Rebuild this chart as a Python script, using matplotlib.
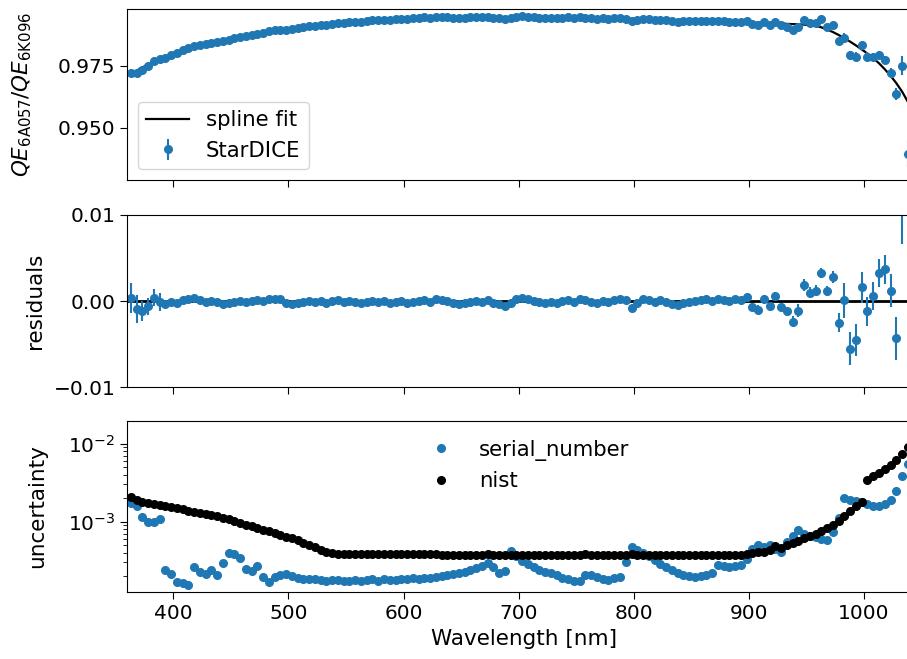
import numpy as np
import matplotlib
matplotlib.use("Agg")
import matplotlib.pyplot as plt

# Wavelength grid [nm], 5 nm steps
wavelength = np.arange(363, 1039, 5)

# spline fit of the QE ratio
spline_fit = [
    0.9716, 0.9730, 0.9743, 0.9755, 0.9766, 0.9777, 0.9786, 0.9795, 0.9803, 0.9811,
    0.9818, 0.9825, 0.9831, 0.9837, 0.9842, 0.9847, 0.9852, 0.9857, 0.9862, 0.9866,
    0.9871, 0.9875, 0.9879, 0.9883, 0.9887, 0.9891, 0.9894, 0.9897, 0.9900, 0.9903,
    0.9906, 0.9909, 0.9912, 0.9915, 0.9918, 0.9920, 0.9922, 0.9924, 0.9926, 0.9928,
    0.9930, 0.9932, 0.9933, 0.9935, 0.9936, 0.9937, 0.9939, 0.9940, 0.9941, 0.9942,
    0.9943, 0.9944, 0.9944, 0.9945, 0.9945, 0.9946, 0.9946, 0.9946, 0.9946, 0.9946,
    0.9946, 0.9946, 0.9946, 0.9946, 0.9946, 0.9946, 0.9946, 0.9946, 0.9946, 0.9946,
    0.9946, 0.9945, 0.9945, 0.9945, 0.9944, 0.9944, 0.9944, 0.9943, 0.9943, 0.9943,
    0.9942, 0.9942, 0.9941, 0.9941, 0.9940, 0.9940, 0.9939, 0.9939, 0.9938, 0.9937,
    0.9937, 0.9936, 0.9935, 0.9935, 0.9934, 0.9933, 0.9933, 0.9932, 0.9931, 0.9931,
    0.9930, 0.9929, 0.9929, 0.9928, 0.9927, 0.9926, 0.9926, 0.9925, 0.9924, 0.9923,
    0.9923, 0.9922, 0.9921, 0.9920, 0.9919, 0.9918, 0.9917, 0.9916, 0.9914, 0.9911,
    0.9905, 0.9896, 0.9886, 0.9874, 0.9861, 0.9847, 0.9832, 0.9816, 0.9799, 0.9781,
    0.9760, 0.9736, 0.9710, 0.9680, 0.9646, 0.9605,
]

# StarDICE measurement minus spline
residuals = [
    0.0004, -0.0009, -0.0011, -0.0006, 0.0004, -0.0001, -0.0003, -0.0001, -0.0002, 0.0001,
    0.0003, 0.0004, 0.0001, -0.0001, 0.0000, -0.0001, -0.0003, -0.0002, -0.0001, 0.0000,
    -0.0001, 0.0000, 0.0001, 0.0000, 0.0002, 0.0003, 0.0002, -0.0002, -0.0003, -0.0002,
    -0.0001, 0.0000, -0.0001, 0.0000, -0.0002, 0.0000, 0.0001, -0.0001, 0.0000, -0.0001,
    -0.0002, -0.0001, 0.0000, -0.0001, 0.0000, -0.0002, -0.0001, 0.0000, -0.0002, -0.0001,
    0.0000, 0.0001, -0.0001, 0.0002, 0.0001, 0.0000, -0.0002, -0.0003, -0.0002, -0.0001,
    0.0000, -0.0001, 0.0001, -0.0002, -0.0003, -0.0006, -0.0002, 0.0002, 0.0004, 0.0002,
    0.0000, -0.0001, -0.0002, -0.0001, -0.0002, 0.0000, 0.0001, -0.0001, 0.0002, 0.0001,
    -0.0001, -0.0002, 0.0000, -0.0001, 0.0001, 0.0002, 0.0001, -0.0008, -0.0002, 0.0002,
    0.0001, -0.0001, 0.0001, -0.0001, -0.0003, -0.0005, -0.0002, -0.0001, 0.0000, 0.0001,
    0.0002, 0.0000, 0.0002, 0.0001, 0.0000, 0.0002, 0.0001, 0.0005, -0.0007, -0.0010,
    0.0002, -0.0006, 0.0006, -0.0007, -0.0012, -0.0024, -0.0011, 0.0019, 0.0010, 0.0012,
    0.0033, 0.0012, 0.0028, -0.0025, 0.0001, -0.0055, -0.0045, 0.0016, -0.0012, 0.0006,
    0.0033, 0.0037, 0.0012, -0.0043, 0.0105, -0.0210,
]

# uncertainties
serial_number = [
    1.72e-3, 1.59e-3, 1.16e-3, 1.00e-3, 1.00e-3, 1.07e-3, 2.40e-4, 2.14e-4, 1.70e-4, 1.62e-4,
    1.55e-4, 2.65e-4, 2.29e-4, 2.14e-4, 2.40e-4, 2.07e-4, 2.98e-4, 3.94e-4, 3.80e-4, 3.39e-4,
    2.48e-4, 2.34e-4, 2.73e-4, 1.94e-4, 1.67e-4, 1.97e-4, 2.05e-4, 2.14e-4, 2.00e-4, 1.90e-4,
    1.85e-4, 1.82e-4, 1.85e-4, 1.80e-4, 1.75e-4, 1.80e-4, 1.78e-4, 1.72e-4, 1.75e-4, 1.80e-4,
    1.74e-4, 1.78e-4, 1.82e-4, 1.76e-4, 1.85e-4, 1.78e-4, 1.80e-4, 1.84e-4, 1.86e-4, 1.88e-4,
    1.85e-4, 1.90e-4, 1.92e-4, 1.97e-4, 2.00e-4, 2.05e-4, 2.15e-4, 2.20e-4, 2.30e-4, 2.40e-4,
    2.55e-4, 2.70e-4, 2.95e-4, 2.65e-4, 2.20e-4, 2.35e-4, 4.20e-4, 3.60e-4, 3.10e-4, 2.90e-4,
    2.60e-4, 2.40e-4, 2.30e-4, 2.20e-4, 2.10e-4, 1.90e-4, 1.85e-4, 1.75e-4, 1.72e-4, 2.10e-4,
    2.05e-4, 1.97e-4, 1.85e-4, 1.80e-4, 1.90e-4, 1.97e-4, 3.00e-4, 4.70e-4, 4.30e-4, 4.00e-4,
    3.60e-4, 3.20e-4, 2.90e-4, 2.60e-4, 2.40e-4, 2.20e-4, 2.07e-4, 2.00e-4, 1.97e-4, 2.00e-4,
    2.05e-4, 2.20e-4, 2.80e-4, 2.70e-4, 2.65e-4, 2.70e-4, 2.80e-4, 3.30e-4, 4.50e-4, 5.00e-4,
    4.80e-4, 5.00e-4, 4.50e-4, 4.10e-4, 5.50e-4, 6.50e-4, 7.80e-4, 7.00e-4, 6.60e-4, 6.40e-4,
    6.00e-4, 5.80e-4, 7.40e-4, 1.10e-3, 2.00e-3, 1.90e-3, 1.85e-3, 1.80e-3, 1.68e-3, 1.58e-3,
    1.60e-3, 1.68e-3, 1.90e-3, 2.50e-3, 3.90e-3, 5.50e-3,
]

nist = [
    2.05e-3, 1.92e-3, 1.80e-3, 1.72e-3, 1.68e-3, 1.64e-3, 1.60e-3, 1.55e-3, 1.52e-3, 1.45e-3,
    1.38e-3, 1.33e-3, 1.29e-3, 1.26e-3, 1.22e-3, 1.17e-3, 1.12e-3, 1.07e-3, 1.02e-3, 9.7e-4,
    9.2e-4, 8.8e-4, 8.3e-4, 7.9e-4, 7.5e-4, 7.1e-4, 6.8e-4, 6.4e-4, 6.1e-4, 5.8e-4,
    5.4e-4, 5.0e-4, 4.8e-4, 4.4e-4, 4.15e-4, 3.95e-4, 3.8e-4, 3.85e-4, 3.85e-4, 3.85e-4,
    3.85e-4, 3.85e-4, 3.85e-4, 3.85e-4, 3.85e-4, 3.85e-4, 3.85e-4, 3.85e-4, 3.85e-4, 3.85e-4,
    3.85e-4, 3.85e-4, 3.85e-4, 3.85e-4, 3.7e-4, 3.7e-4, 3.7e-4, 3.7e-4, 3.7e-4, 3.7e-4,
    3.7e-4, 3.72e-4, 3.85e-4, 3.75e-4, 3.7e-4, 3.7e-4, 3.7e-4, 3.7e-4, 3.7e-4, 3.7e-4,
    3.7e-4, 3.7e-4, 3.7e-4, 3.7e-4, 3.7e-4, 3.7e-4, 3.7e-4, 3.7e-4, 3.7e-4, 3.8e-4,
    3.7e-4, 3.7e-4, 3.7e-4, 3.7e-4, 3.7e-4, 3.7e-4, 3.7e-4, 3.8e-4, 3.7e-4, 3.7e-4,
    3.7e-4, 3.7e-4, 3.7e-4, 3.7e-4, 3.7e-4, 3.7e-4, 3.7e-4, 3.7e-4, 3.7e-4, 3.7e-4,
    3.7e-4, 3.7e-4, 3.7e-4, 3.7e-4, 3.7e-4, 3.7e-4, 3.7e-4, 3.85e-4, 3.95e-4, 4.05e-4,
    4.15e-4, 4.3e-4, 4.9e-4, 4.6e-4, 5.1e-4, 5.4e-4, 5.7e-4, 6.1e-4, 6.5e-4, 7.0e-4,
    7.6e-4, 8.3e-4, 9.1e-4, 1.03e-3, 1.18e-3, 1.36e-3, 1.57e-3, 1.80e-3, 3.40e-3, 3.80e-3,
    4.20e-3, 4.75e-3, 5.40e-3, 6.20e-3, 7.30e-3, 9.00e-3,
]

assert len(spline_fit) == len(residuals) == len(serial_number) == len(nist) == len(wavelength)

spline_fit = np.array(spline_fit)
residuals = np.array(residuals)
serial_number = np.array(serial_number)
nist = np.array(nist)
stardice = spline_fit + residuals

plt.rcParams['font.size'] = 15.5
plt.rcParams['xtick.labelsize'] = 14.5
plt.rcParams['ytick.labelsize'] = 14.5
plt.rcParams['legend.fontsize'] = 15.3
plt.rcParams['xtick.major.size'] = 5
plt.rcParams['ytick.major.size'] = 5
plt.rcParams['xtick.minor.size'] = 3
plt.rcParams['ytick.minor.size'] = 3

W, H = 907, 659
fig = plt.figure(figsize=(W / 100, H / 100), dpi=100)
left = 127.3 / W
width = (921.6 - 127.3) / W
ax1 = fig.add_axes([left, 1 - 180 / H, width, 171 / H])
ax2 = fig.add_axes([left, 1 - 387.3 / H, width, 172.3 / H], sharex=ax1)
ax3 = fig.add_axes([left, 1 - 592.3 / H, width, 171.6 / H], sharex=ax1)

# ratio panel
ax1.plot(wavelength, spline_fit, 'k-', lw=1.6, label='spline fit')
ax1.errorbar(wavelength, stardice, yerr=serial_number, fmt='o', ms=5.5, label='StarDICE')
ax1.set_ylim(0.9289, 0.9979)
ax1.set_yticks([0.950, 0.975])
ax1.set_ylabel(r'$QE_{\mathrm{6A057}}/QE_{\mathrm{6K096}}$')
ax1.legend(loc='lower left')
ax1.tick_params(labelbottom=False)

# residuals panel
ax2.axhline(0, color='k', lw=2)
ax2.errorbar(wavelength, residuals, yerr=serial_number, fmt='o', ms=5.5)
ax2.set_ylim(-0.01, 0.01)
ax2.set_yticks([-0.01, 0.0, 0.01])
ax2.set_ylabel('residuals')
ax2.tick_params(labelbottom=False)

# uncertainty panel
ax3.plot(wavelength, serial_number, '.', ms=11, label='serial_number')
ax3.plot(wavelength, nist, 'k.', ms=11, label='nist')
ax3.set_yscale('log')
ax3.set_ylim(1.245e-4, 0.0197)
ax3.set_ylabel('uncertainty')
ax3.set_xlabel('Wavelength [nm]')
ax3.legend(loc='upper center', frameon=False)

ax1.set_xlim(360, 1050)
ax1.set_xticks([400, 500, 600, 700, 800, 900, 1000])

ax1.yaxis.set_label_coords(-0.118, 0.5)
ax2.yaxis.set_label_coords(-0.103, 0.5)
ax3.yaxis.set_label_coords(-0.1015, 0.5)

fig.savefig('out.png', dpi=100)
